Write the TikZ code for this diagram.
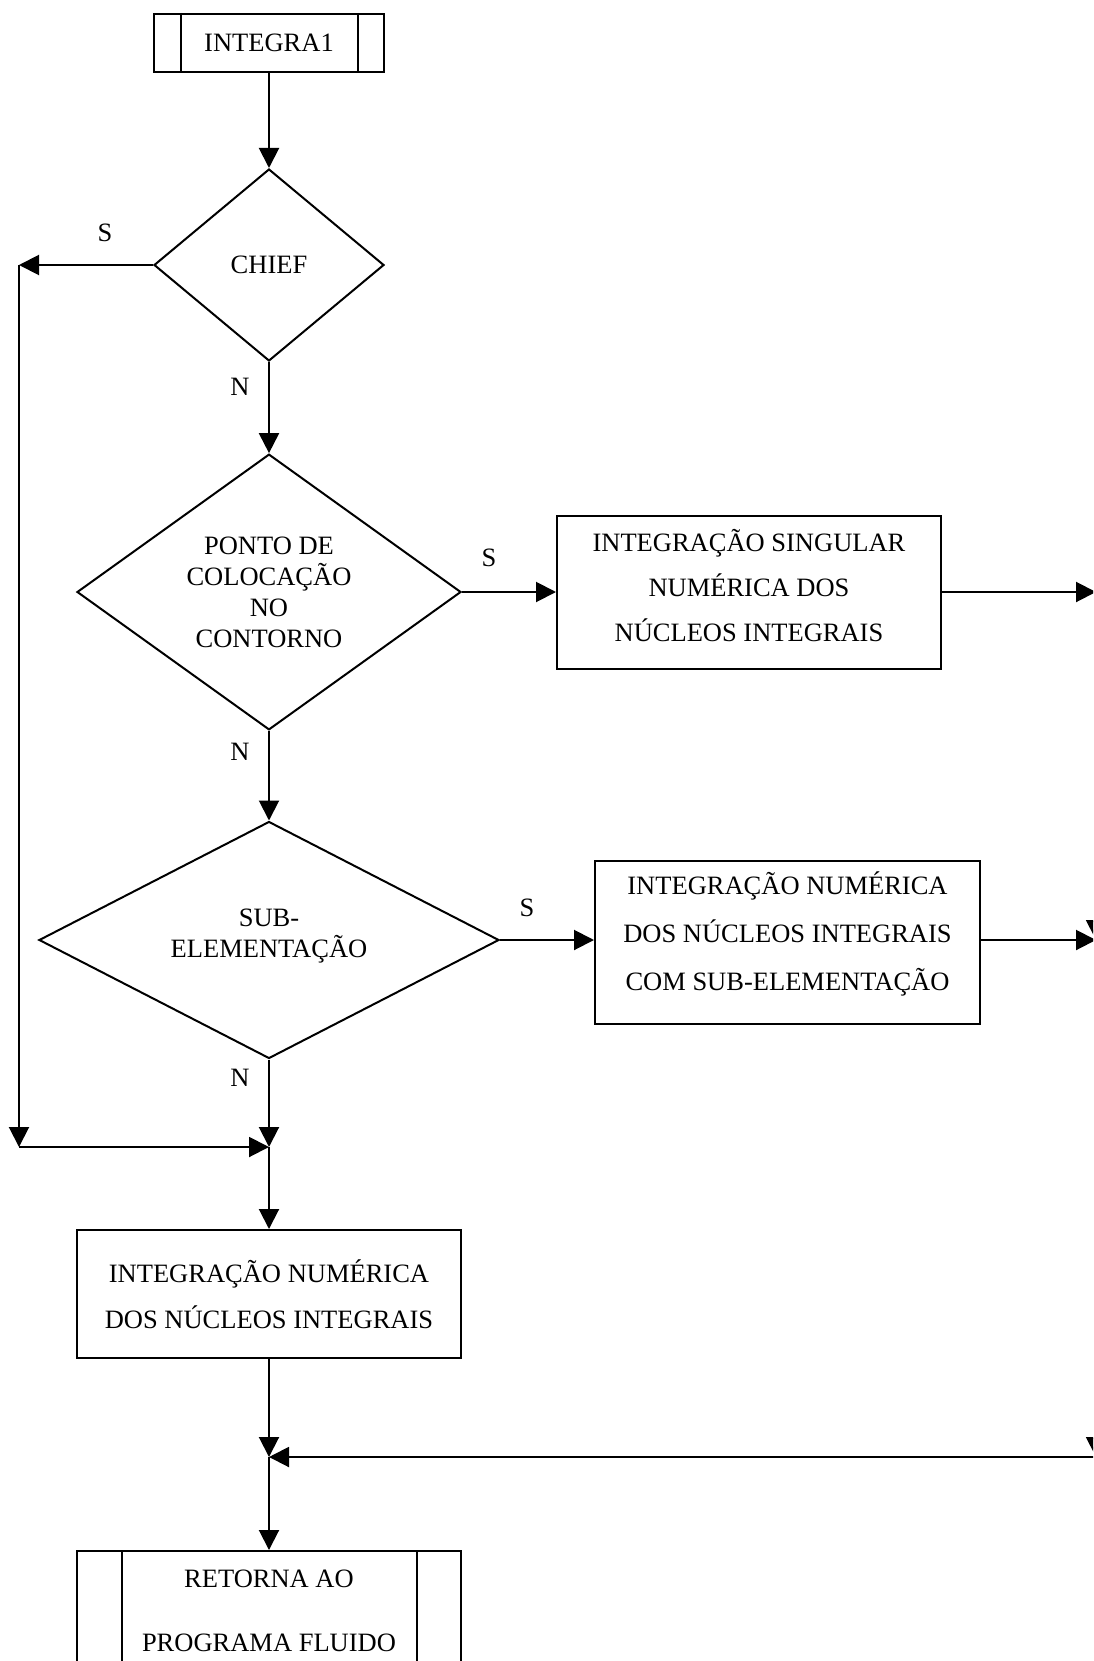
\documentclass[tikz,border=0pt]{standalone}
\usepackage{fontspec}
\setmainfont{Liberation Serif}
\usetikzlibrary{shapes.geometric,arrows.meta}
\begin{document}
\begin{tikzpicture}[x=1pt,y=-1pt,
  txt/.style={font=\fontsize{26.5}{#1}\selectfont, align=center, inner sep=0pt},
  txt/.default=31,
  flow/.style={line width=2pt, -{Triangle[length=20pt,width=20pt]}},
  bar/.style={line width=2pt},
  procbox/.style={draw, line width=2pt, rectangle, inner sep=0pt, align=center},
  decision/.style={draw, diamond, line width=2pt, inner sep=0pt, align=center,
    font=\fontsize{26.5}{31}\selectfont},
  answer/.style={font=\fontsize{26.5}{31}\selectfont, inner sep=0pt}]
\useasboundingbox (0,0) rectangle (1093,1661);
\clip (0,0) rectangle (1093,1661);

% subroutine entry
\node[procbox, minimum width=230pt, minimum height=58pt, txt] (start) at (269,43) {INTEGRA1};
\draw[bar] ([xshift=28pt]start.north west) -- ([xshift=28pt]start.south west);
\draw[bar] ([xshift=-27pt]start.north east) -- ([xshift=-27pt]start.south east);

% decisions
\node[decision, minimum width=230pt, minimum height=192pt] (chief) at (269,265) {CHIEF};
\node[decision, minimum width=384pt, minimum height=268pt] (ponto) at (269,592)
  {PONTO DE\\COLOCAÇÃO\\NO\\CONTORNO};
\node[decision, minimum width=460pt, minimum height=237pt] (sub) at (269,940) {};
\node[txt] (subtxt) at (269,936) {SUB-\\ELEMENTAÇÃO};

% processes
\node[procbox, minimum width=384pt, minimum height=153pt] (sing) at (749,592) {};
\node[txt=45] (singtxt) at (749,586)
  {INTEGRAÇÃO SINGULAR\\NUMÉRICA DOS\\NÚCLEOS INTEGRAIS};
\node[procbox, minimum width=385pt, minimum height=163pt] (subel) at (787.5,942) {};
\node[txt=48] (subeltxt) at (787.5,934)
  {INTEGRAÇÃO NUMÉRICA\\DOS NÚCLEOS INTEGRAIS\\COM SUB-ELEMENTAÇÃO};
\node[procbox, minimum width=384pt, minimum height=128pt, txt=46] (num) at (269,1294)
  {INTEGRAÇÃO NUMÉRICA\\DOS NÚCLEOS INTEGRAIS};

% subroutine exit
\node[procbox, minimum width=384pt, minimum height=150pt] (ret) at (269,1626) {};
\node[txt=64] (rettxt) at (269,1611) {RETORNA AO\\PROGRAMA FLUIDO};
\draw[bar] ([xshift=46pt]ret.north west) -- ([xshift=46pt]ret.south west);
\draw[bar] ([xshift=-45pt]ret.north east) -- ([xshift=-45pt]ret.south east);

% junction points
\coordinate (lA) at (19,265);
\coordinate (lB) at (19,1147);
\coordinate (jA) at (269,1147);
\coordinate (jB) at (269,1457);
\coordinate (rA) at (1096,592);
\coordinate (rB) at (1096,940);
\coordinate (rC) at (1096,1457);

% main column
\draw[flow] (start.south) -- (chief.north);
\draw[flow] (chief.south) -- (ponto.north);
\draw[flow] (ponto.south) -- (sub.north);
\draw[flow] (sub.south) -- (jA);
\draw[flow] (jA) -- (num.north);
\draw[flow] (num.south) -- (jB);
\draw[flow] (jB) -- (ret.north);

% left bypass
\draw[flow] (chief.west) -- (lA);
\draw[flow] (lA) -- (lB);
\draw[flow] (lB) -- (jA);

% right branches
\draw[flow] (ponto.east) -- (sing.west);
\draw[flow] (sub.east) -- (sub.east -| subel.west);
\draw[flow] (sing.east) -- (rA);
\draw[flow] (sub.east -| subel.east) -- (rB);
\draw[flow] (rA) -- (rB);
\draw[flow] (rB) -- (rC);
\draw[flow] (rC) -- (jB);

% branch labels
\node[answer] (s1) at (105,233) {S};
\node[answer] (n1) at (240,387) {N};
\node[answer] (s2) at (489,558) {S};
\node[answer] (n2) at (240,752) {N};
\node[answer] (s3) at (527,908) {S};
\node[answer] (n3) at (240,1078) {N};
\end{tikzpicture}
\end{document}
